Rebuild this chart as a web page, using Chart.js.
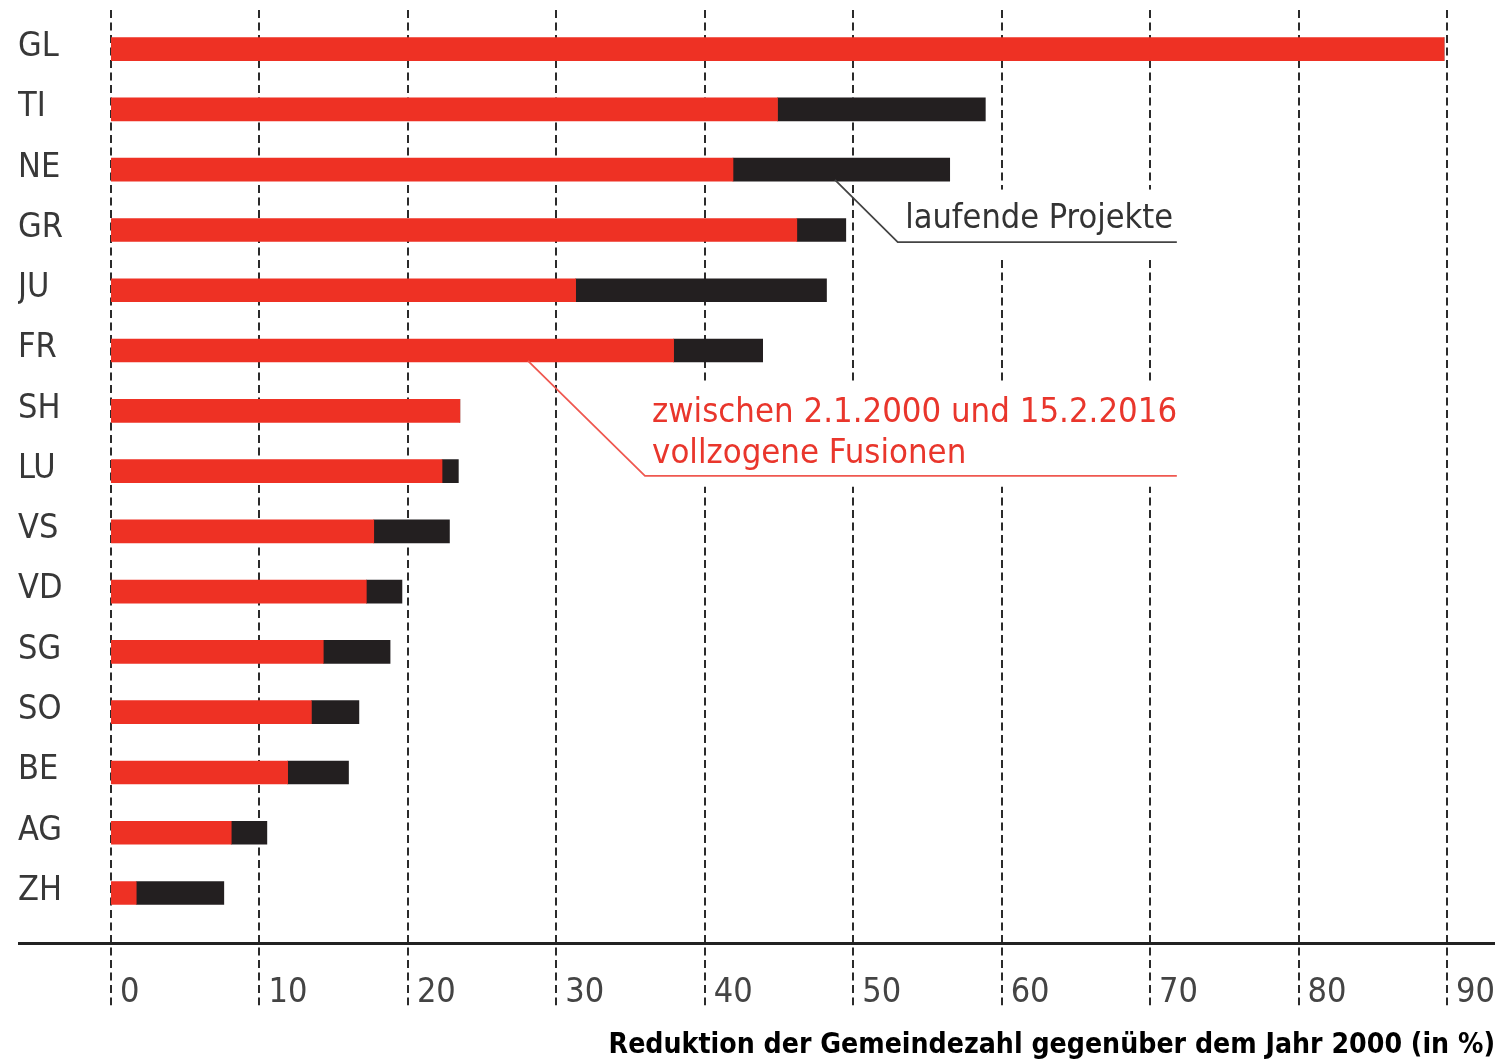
<!DOCTYPE html>
<html><head><meta charset="utf-8">
<script src="https://cdn.jsdelivr.net/npm/chart.js@4/dist/chart.umd.min.js"></script>
<style>html,body{margin:0;padding:0;background:#fff}#wrap{width:1501px;height:1064px}</style>
</head><body><div id="wrap"><canvas id="c" width="1501" height="1064"></canvas></div>
<script>
// ---- data ----
const cantons = ['GL','TI','NE','GR','JU','FR','SH','LU','VS','VD','SG','SO','BE','AG','ZH'];
const mergedPct = [89.8, 44.9, 41.9, 46.2, 31.3, 37.9, 23.5, 22.3, 17.7, 17.2, 14.3, 13.5, 11.9, 8.1, 1.7];
const ongoingPct = [0, 14.0, 14.6, 3.3, 16.9, 6.0, 0, 1.1, 5.1, 2.4, 4.5, 3.2, 4.1, 2.4, 5.9];
const xTickValues = [0, 10, 20, 30, 40, 50, 60, 70, 80, 90];
const axisTitle = 'Reduktion der Gemeindezahl gegenüber dem Jahr 2000 (in %)';
const noteOngoingText = ['laufende Projekte'];
const noteMergedText = ['zwischen 2.1.2000 und 15.2.2016', 'vollzogene Fusionen'];

// ---- style ----
const FONT = "'DejaVu Sans Condensed', 'DejaVu Sans', sans-serif";
const RED = '#ee3124';
const BLACK = '#231f20';

// annotations anchored in data units (x = percent, y = category index)
const notes = [
  { lines: noteOngoingText, color: '#333333', lineColor: '#444444', size: 34,
    from: [48.77, 2.17], corner: [53.0, 3.2], endX: 71.8,
    textX: 53.5, textY: [2.82], box: [53.1, 72.2, 2.33, 3.45] },
  { lines: noteMergedText, color: '#e9362c', lineColor: '#ef5850', size: 34.4,
    from: [28.09, 5.17], corner: [35.97, 7.08], endX: 71.8,
    textX: 36.45, textY: [6.04, 6.72], box: [35.9, 72.2, 5.54, 7.26] }
];

const gridPlugin = {
  id: 'dashGrid',
  beforeDatasetsDraw(chart) {
    const {ctx, chartArea, scales: {x}} = chart;
    ctx.save();
    ctx.strokeStyle = '#2b2b2b';
    ctx.lineWidth = 2;
    ctx.setLineDash([8, 4.5]);
    x.ticks.forEach(t => {
      const px = Math.round(x.getPixelForValue(t.value));
      ctx.beginPath();
      ctx.moveTo(px, chartArea.top - 9);
      ctx.lineTo(px, chartArea.bottom + 82);
      ctx.stroke();
    });
    ctx.setLineDash([]);
    ctx.lineWidth = 3;
    ctx.strokeStyle = '#222222';
    const ay = Math.round(chartArea.bottom + 20) + 0.5;
    ctx.beginPath();
    ctx.moveTo(18, ay);
    ctx.lineTo(chart.width - 6, ay);
    ctx.stroke();
    ctx.restore();
  }
};

const notePlugin = {
  id: 'notes',
  afterDatasetsDraw(chart) {
    const {ctx, scales: {x, y}} = chart;
    ctx.save();
    notes.forEach(n => {
      const bx0 = x.getPixelForValue(n.box[0]), bx1 = x.getPixelForValue(n.box[1]);
      const by0 = y.getPixelForValue(n.box[2]), by1 = y.getPixelForValue(n.box[3]);
      ctx.fillStyle = '#ffffff';
      ctx.fillRect(bx0, by0, bx1 - bx0, by1 - by0);
    });
    notes.forEach(n => {
      ctx.strokeStyle = n.lineColor;
      ctx.lineWidth = 1.8;
      ctx.beginPath();
      ctx.moveTo(x.getPixelForValue(n.from[0]), y.getPixelForValue(n.from[1]));
      ctx.lineTo(x.getPixelForValue(n.corner[0]), y.getPixelForValue(n.corner[1]));
      ctx.lineTo(x.getPixelForValue(n.endX), y.getPixelForValue(n.corner[1]));
      ctx.stroke();
      ctx.fillStyle = n.color;
      ctx.font = n.size + 'px ' + FONT;
      ctx.textAlign = 'left';
      ctx.textBaseline = 'middle';
      n.lines.forEach((t, i) => {
        ctx.fillText(t, x.getPixelForValue(n.textX), y.getPixelForValue(n.textY[i]));
      });
    });
    ctx.restore();
  }
};

new Chart(document.getElementById('c'), {
  type: 'bar',
  data: {
    labels: cantons,
    datasets: [
      { label: 'vollzogene Fusionen', data: mergedPct, backgroundColor: RED, barThickness: 23 },
      { label: 'laufende Projekte', data: ongoingPct, backgroundColor: BLACK, barThickness: 23 }
    ]
  },
  options: {
    indexAxis: 'y',
    responsive: false,
    animation: false,
    devicePixelRatio: 1,
    layout: { padding: { left: 18, right: 6, top: 19, bottom: 0 } },
    plugins: {
      legend: { display: false },
      tooltip: { enabled: false },
      title: {
        display: true, position: 'bottom', align: 'end', text: axisTitle,
        color: '#000000', font: { family: FONT, size: 28.2, weight: 'bold' },
        padding: { top: 0, bottom: 1 }
      }
    },
    scales: {
      x: {
        type: 'linear', stacked: true, min: 0, max: 90,
        afterBuildTicks: s => { s.ticks = xTickValues.map(v => ({ value: v })); },
        afterFit: s => { s.height = 106; s.paddingLeft = 0; s.paddingRight = 54; },
        grid: { display: false, drawTicks: false },
        border: { display: false },
        ticks: {
          align: 'start', labelOffset: 9, padding: 50, maxRotation: 0,
          color: '#444444', font: { family: FONT, size: 34 }
        }
      },
      y: {
        type: 'category', stacked: true,
        afterFit: s => { s.width = 93; s.paddingTop = 0; s.paddingBottom = 0; },
        grid: { display: false, drawTicks: false },
        border: { display: false },
        ticks: {
          crossAlign: 'far', labelOffset: -2, padding: 0,
          color: '#383838', font: { family: FONT, size: 34 }
        }
      }
    }
  },
  plugins: [gridPlugin, notePlugin]
});
</script>
</body></html>
